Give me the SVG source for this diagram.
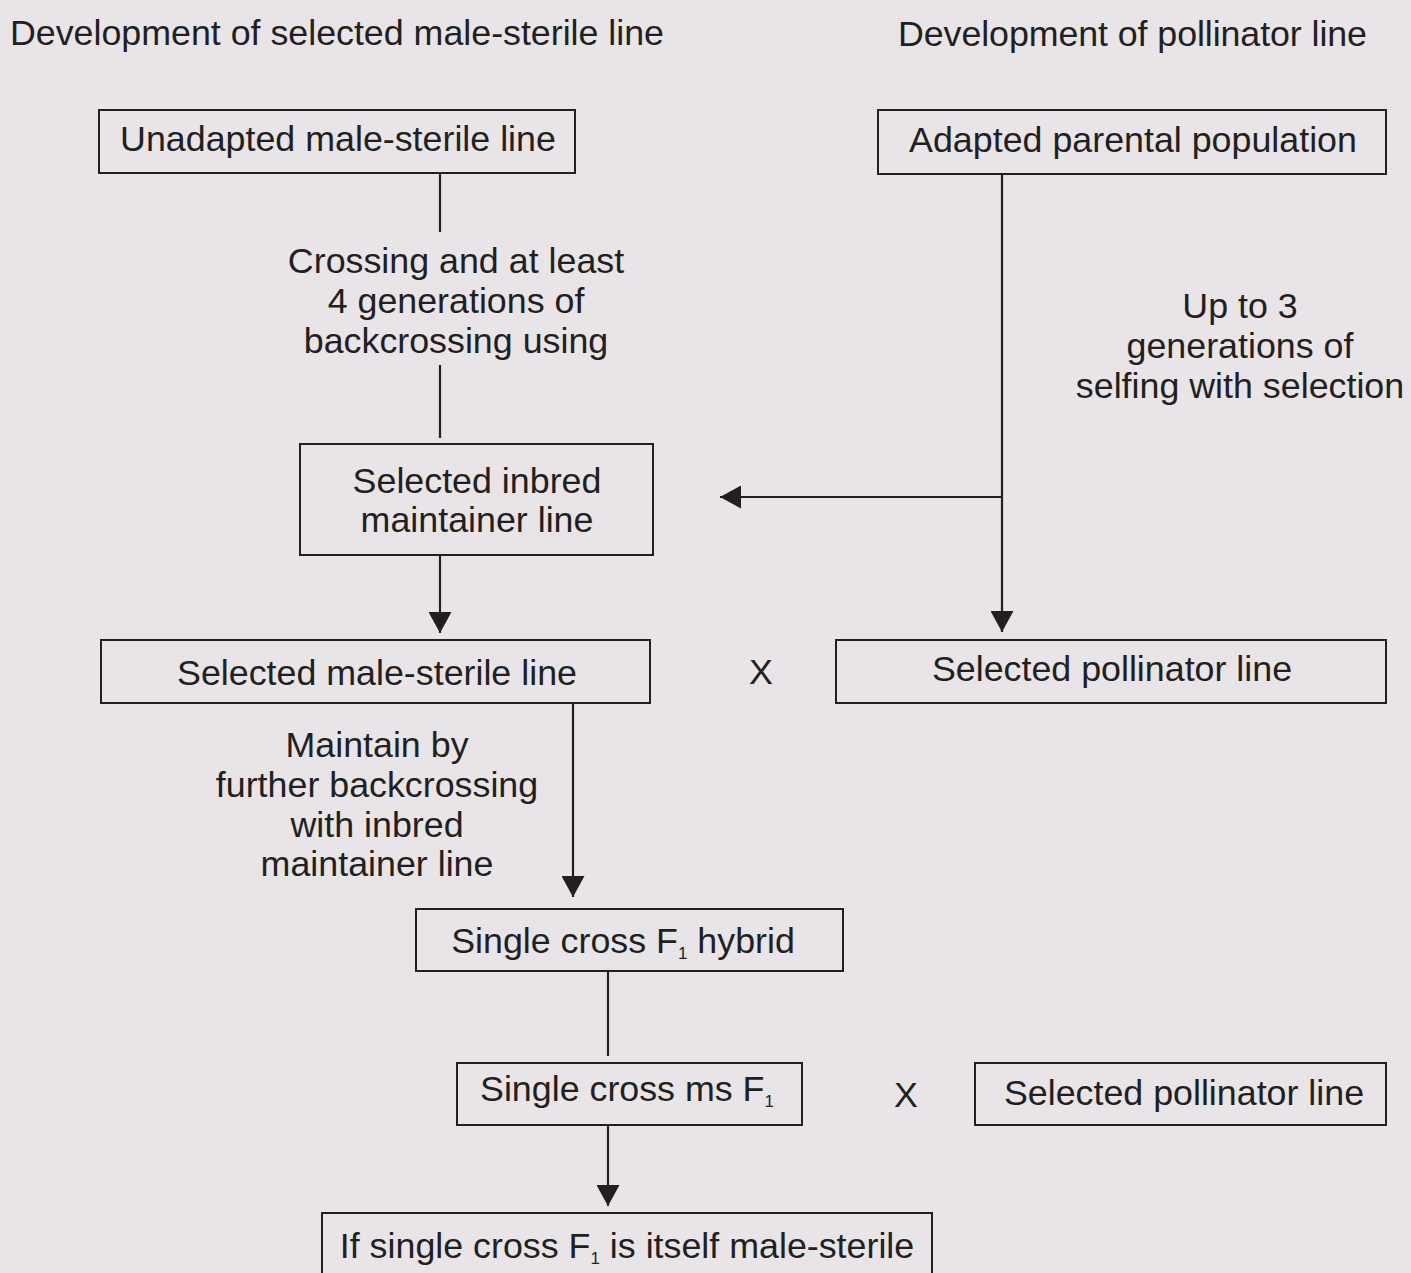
<svg xmlns="http://www.w3.org/2000/svg" width="1411" height="1273" viewBox="0 0 1411 1273">
<style>
text{font-family:"Liberation Sans",Arial,sans-serif;font-size:35.8px;fill:#231f20}
.c{text-anchor:middle}
.box{fill:none;stroke:#231f20;stroke-width:2}
.ln{fill:none;stroke:#231f20;stroke-width:2.2}
.sub{font-size:17px}
</style>
<defs>
<marker id="ah" markerUnits="userSpaceOnUse" markerWidth="22" markerHeight="23" refX="21" refY="11.5" orient="auto">
<path d="M0,0 L21,11.5 L0,23 z" fill="#231f20"/>
</marker>
</defs>
<rect width="1411" height="1273" fill="#e8e4e8"/>
<g id="headers">
<text x="10" y="45" textLength="654">Development of selected male-sterile line</text>
<text x="898" y="46" textLength="469">Development of pollinator line</text>
</g>
<g id="connectors">
<line class="ln" x1="440" y1="173" x2="440" y2="232"/>
<line class="ln" x1="440" y1="365" x2="440" y2="438"/>
<line class="ln" x1="440" y1="555" x2="440" y2="633" marker-end="url(#ah)"/>
<line class="ln" x1="1002" y1="174" x2="1002" y2="632" marker-end="url(#ah)"/>
<line class="ln" x1="1002" y1="497" x2="720" y2="497" marker-end="url(#ah)"/>
<line class="ln" x1="573" y1="703" x2="573" y2="897" marker-end="url(#ah)"/>
<line class="ln" x1="608" y1="971" x2="608" y2="1056"/>
<line class="ln" x1="608" y1="1125" x2="608" y2="1206" marker-end="url(#ah)"/>
</g>
<g id="label-crossing">
<text class="c" x="456" y="273">Crossing and at least</text>
<text class="c" x="456" y="313">4 generations of</text>
<text class="c" x="456" y="353">backcrossing using</text>
</g>
<g id="label-selfing">
<text class="c" x="1240" y="318">Up to 3</text>
<text class="c" x="1240" y="358">generations of</text>
<text class="c" x="1240" y="398">selfing with selection</text>
</g>
<g id="label-maintain">
<text class="c" x="377" y="757">Maintain by</text>
<text class="c" x="377" y="797">further backcrossing</text>
<text class="c" x="377" y="837">with inbred</text>
<text class="c" x="377" y="876">maintainer line</text>
</g>
<g id="node-unadapted">
<rect class="box" x="99" y="110" width="476" height="63"/>
<text class="c" x="338" y="151">Unadapted male-sterile line</text>
</g>
<g id="node-adapted">
<rect class="box" x="878" y="110" width="508" height="64"/>
<text class="c" x="1133" y="152">Adapted parental population</text>
</g>
<g id="node-inbred">
<rect class="box" x="300" y="444" width="353" height="111"/>
<text class="c" x="477" y="493">Selected inbred</text>
<text class="c" x="477" y="532">maintainer line</text>
</g>
<g id="node-msline">
<rect class="box" x="101" y="640" width="549" height="63"/>
<text class="c" x="377" y="685">Selected male-sterile line</text>
</g>
<g id="x1"><text class="c" x="761" y="684">X</text></g>
<g id="node-pollinator1">
<rect class="box" x="836" y="640" width="550" height="63"/>
<text class="c" x="1112" y="681">Selected pollinator line</text>
</g>
<g id="node-f1hybrid">
<rect class="box" x="416" y="909" width="427" height="62"/>
<text class="c" x="623" y="953">Single cross F<tspan class="sub" dy="6">1</tspan><tspan dy="-6"> hybrid</tspan></text>
</g>
<g id="node-msf1">
<rect class="box" x="457" y="1063" width="345" height="62"/>
<text class="c" x="627" y="1101">Single cross ms F<tspan class="sub" dy="6">1</tspan></text>
</g>
<g id="x2"><text class="c" x="906" y="1107">X</text></g>
<g id="node-pollinator2">
<rect class="box" x="975" y="1063" width="411" height="62"/>
<text class="c" x="1184" y="1105">Selected pollinator line</text>
</g>
<g id="node-itself">
<rect class="box" x="322" y="1213" width="610" height="80"/>
<text class="c" x="627" y="1258">If single cross F<tspan class="sub" dy="6">1</tspan><tspan dy="-6"> is itself male-sterile</tspan></text>
</g>
</svg>
